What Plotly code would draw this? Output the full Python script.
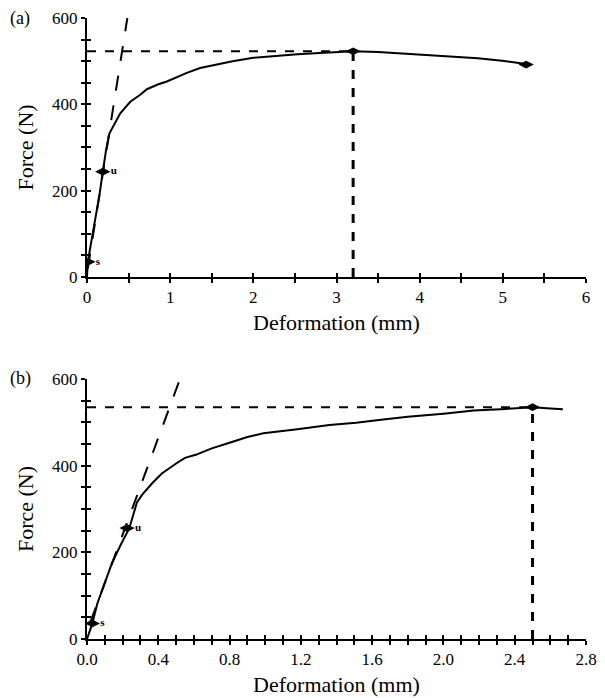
import plotly.graph_objects as go

# ---- data (a) ----
def_a = [0.0, 0.01, 0.05, 0.10, 0.15, 0.19, 0.23, 0.27, 0.32, 0.40, 0.52, 0.64, 0.72, 0.85,
         0.96, 1.04, 1.20, 1.36, 1.52, 1.75, 2.00, 2.25, 2.53, 2.80, 3.00, 3.20, 3.50, 3.78,
         4.10, 4.39, 4.70, 4.99, 5.15, 5.30]
force_a = [0, 35, 80, 135, 190, 244, 295, 333, 350, 379, 406, 422, 435, 446,
           453, 460, 473, 484, 491, 500, 508, 512, 516, 519, 521, 523, 521, 518,
           515, 512, 507, 501, 497, 493]
peak_a = (3.2, 523)
end_a = (5.28, 492)
s_a = (0.01, 35)
u_a = (0.19, 244)
tan_a_x = [0.01, 0.485]
tan_a_y = [20, 600]

# ---- data (b) ----
def_b = [0.0, 0.03, 0.058, 0.10, 0.14, 0.19, 0.237, 0.28, 0.31, 0.367, 0.42, 0.50, 0.55,
         0.61, 0.70, 0.80, 0.90, 0.99, 1.10, 1.18, 1.36, 1.51, 1.65, 1.80, 2.00, 2.17,
         2.35, 2.50, 2.60, 2.67]
force_b = [0, 36, 82, 130, 175, 218, 255, 315, 333, 360, 382, 405, 418,
           425, 440, 453, 466, 475, 480, 484, 494, 499, 506, 513, 520, 527,
           531, 535, 532, 530]
peak_b = (2.5, 535)
s_b = (0.03, 36)
u_b = (0.225, 256)
tan_b_x = [0.02, 0.52]
tan_b_y = [40, 598]

xa_tickvals = [i * 0.5 for i in range(13)]
xa_ticktext = [str(int(v)) if v == int(v) else "" for v in xa_tickvals]
xb_tickvals = [round(i * 0.1, 1) for i in range(29)]
xb_ticktext = [f"{v:.1f}" if abs(v / 0.4 - round(v / 0.4)) < 1e-6 else "" for v in xb_tickvals]
y_tickvals = list(range(0, 601, 50))
y_ticktext = [str(v) if v % 200 == 0 else "" for v in y_tickvals]

FONT = "Liberation Serif, Times New Roman, serif"
BLK = "black"

fig = go.Figure()

def add_panel(xs, ys, xax, yax, peak, s, u, tx, ty, endpt=None):
    fig.add_trace(go.Scatter(x=xs, y=ys, mode="lines", line=dict(color=BLK, width=2),
                             xaxis=xax, yaxis=yax, showlegend=False, hoverinfo="skip"))
    fig.add_trace(go.Scatter(x=tx, y=ty, mode="lines", line=dict(color=BLK, width=2, dash="longdash"),
                             xaxis=xax, yaxis=yax, showlegend=False, hoverinfo="skip"))
    fig.add_trace(go.Scatter(x=[0, peak[0]], y=[peak[1], peak[1]], mode="lines",
                             line=dict(color=BLK, width=2, dash="dash"),
                             xaxis=xax, yaxis=yax, showlegend=False, hoverinfo="skip"))
    fig.add_trace(go.Scatter(x=[peak[0], peak[0]], y=[0, peak[1]], mode="lines",
                             line=dict(color=BLK, width=3, dash="dash"),
                             xaxis=xax, yaxis=yax, showlegend=False, hoverinfo="skip"))
    px = [peak[0]] + ([endpt[0]] if endpt else [])
    py = [peak[1]] + ([endpt[1]] if endpt else [])
    fig.add_trace(go.Scatter(x=px, y=py, mode="markers",
                             marker=dict(symbol="diamond-wide", size=11, color=BLK),
                             xaxis=xax, yaxis=yax, showlegend=False, hoverinfo="skip"))
    fig.add_trace(go.Scatter(x=[s[0], u[0]], y=[s[1], u[1]], mode="markers+text",
                             marker=dict(symbol="diamond-wide", size=11, color=BLK),
                             text=["<b>s</b>", "<b>u</b>"], textposition="middle right",
                             textfont=dict(family=FONT, size=11, color=BLK),
                             xaxis=xax, yaxis=yax, showlegend=False, hoverinfo="skip"))

add_panel(def_a, force_a, "x", "y", peak_a, s_a, u_a, tan_a_x, tan_a_y, end_a)
add_panel(def_b, force_b, "x2", "y2", peak_b, s_b, u_b, tan_b_x, tan_b_y)

# invisible traces for overlay axes (inside ticks)
for xa, ya in (("x3", "y3"), ("x4", "y4")):
    fig.add_trace(go.Scatter(x=[None], y=[None], mode="markers", xaxis=xa, yaxis=ya,
                             showlegend=False, hoverinfo="skip"))

tickfont = dict(family=FONT, size=17, color=BLK)
titlefont = dict(family=FONT, size=22, color=BLK)

def xaxis_cfg(rng, tv, tt, anchor):
    return dict(range=rng, tickmode="array", tickvals=tv, ticktext=tt, ticks="outside",
                ticklen=4, tickwidth=2, tickcolor=BLK, showline=True, linecolor=BLK, linewidth=2,
                showgrid=False, zeroline=False, tickfont=tickfont, anchor=anchor, automargin=False,
                title=dict(text="Deformation (mm)", font=titlefont, standoff=8))

def yaxis_cfg(dom, anchor):
    return dict(range=[0, 600], domain=dom, tickmode="array", tickvals=y_tickvals, ticktext=y_ticktext,
                ticks="outside", ticklen=4, tickwidth=2, tickcolor=BLK, showline=True, linecolor=BLK,
                linewidth=2, showgrid=False, zeroline=False, tickfont=tickfont, anchor=anchor,
                automargin=False,
                title=dict(text="Force (N)", font=titlefont, standoff=12))

def ov_x(rng, tv, over, anchor):
    return dict(range=rng, tickmode="array", tickvals=tv, ticktext=[""] * len(tv), ticks="inside",
                ticklen=4, tickwidth=2, tickcolor=BLK, showline=False, showgrid=False, zeroline=False,
                overlaying=over, anchor=anchor, side="bottom", automargin=False)

def ov_y(over, anchor):
    return dict(range=[0, 600], tickmode="array", tickvals=y_tickvals, ticktext=[""] * len(y_tickvals),
                ticks="inside", ticklen=4, tickwidth=2, tickcolor=BLK, showline=False, showgrid=False,
                zeroline=False, overlaying=over, anchor=anchor, side="left", automargin=False)

fig.update_layout(
    width=605, height=698,
    margin=dict(l=87, r=19, t=18, b=59, autoexpand=False),
    paper_bgcolor="white", plot_bgcolor="white",
    xaxis=xaxis_cfg([0, 6], xa_tickvals, xa_ticktext, "y"),
    yaxis=yaxis_cfg([0.583, 1.0], "x"),
    xaxis2=xaxis_cfg([0, 2.8], xb_tickvals, xb_ticktext, "y2"),
    yaxis2=yaxis_cfg([0.0, 0.4187], "x2"),
    xaxis3=ov_x([0, 6], xa_tickvals, "x", "y3"),
    yaxis3=ov_y("y", "x3"),
    xaxis4=ov_x([0, 2.8], xb_tickvals, "x2", "y4"),
    yaxis4=ov_y("y2", "x4"),
)
fig.add_annotation(text="(a)", xref="paper", yref="paper", x=-0.158, y=1.0, xanchor="left",
                   yanchor="middle", showarrow=False, font=dict(family=FONT, size=18, color=BLK))
fig.add_annotation(text="(b)", xref="paper", yref="paper", x=-0.158, y=0.4187, xanchor="left",
                   yanchor="middle", showarrow=False, font=dict(family=FONT, size=18, color=BLK))

fig.write_html("out.html", config={"displayModeBar": False},
               post_script="document.body.style.margin='0';document.body.style.padding='0';")
